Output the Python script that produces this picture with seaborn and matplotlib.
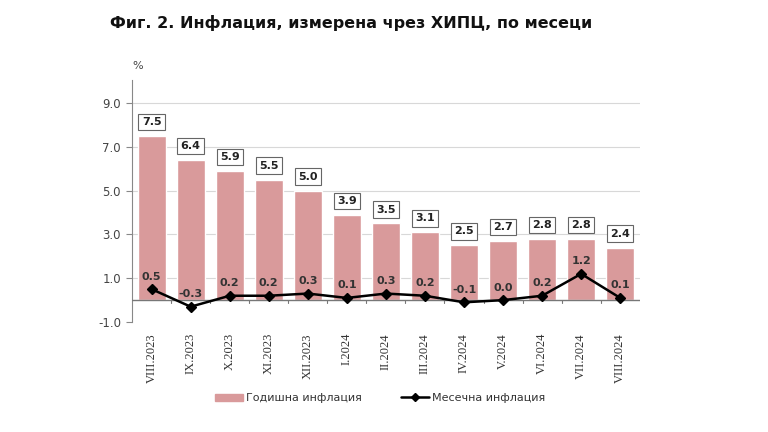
import matplotlib
matplotlib.use("Agg")
import matplotlib.pyplot as plt
import seaborn as sns
import pandas as pd
import numpy as np
from matplotlib.lines import Line2D
from matplotlib.patches import Patch

months = ["VIII.2023", "IX.2023", "X.2023", "XI.2023", "XII.2023", "I.2024", "II.2024",
          "III.2024", "IV.2024", "V.2024", "VI.2024", "VII.2024", "VIII.2024"]
annual = [7.5, 6.4, 5.9, 5.5, 5.0, 3.9, 3.5, 3.1, 2.5, 2.7, 2.8, 2.8, 2.4]
monthly = [0.5, -0.3, 0.2, 0.2, 0.3, 0.1, 0.3, 0.2, -0.1, 0.0, 0.2, 1.2, 0.1]
yticks = [-1.0, 1.0, 3.0, 5.0, 7.0, 9.0]

df = pd.DataFrame({"month": months, "annual": annual, "monthly": monthly})

sns.set_theme(style="white")
plt.rcParams['font.family'] = ['DejaVu Sans']

fig = plt.figure(figsize=(7.68, 4.32), dpi=100)
ax = fig.add_axes([0.172, 0.2546, 0.661, 0.560])

bar_color = "#D99A9B"
sns.barplot(data=df, x="month", y="annual", color=bar_color, width=0.72,
            saturation=1, ax=ax, zorder=2)
x = np.arange(len(months))
ax.plot(x, monthly, color="black", lw=1.8, marker="D", ms=5.5, zorder=4)

ax.set_xlim(-0.5, len(months) - 0.5)
ax.set_ylim(-1.0, 10.05)
ax.set_yticks(yticks)
ax.set_yticklabels([f"{v:.1f}" for v in yticks], fontsize=8.5, color="#444444")
for v in yticks[1:]:
    ax.axhline(v, color="#D8D8D8", lw=0.8, zorder=1)
ax.axhline(0, color="#777777", lw=1.0, zorder=3)
for b in np.arange(0.5, len(months) - 0.5, 1.0):
    ax.plot([b, b], [0, -0.12], color="#777777", lw=0.8, zorder=3)

ax.set_xticks(x)
ax.set_xticklabels(months, rotation=90, fontsize=9, family="Liberation Serif", color="#333333")
ax.tick_params(axis="x", length=0, pad=8)
ax.tick_params(axis="y", length=4, width=0.8, color="#888888", left=True, pad=4)
ax.set_xlabel("")
ax.set_ylabel("")
for s in ["top", "right", "bottom"]:
    ax.spines[s].set_visible(False)
ax.spines["left"].set_color("#888888")
ax.spines["left"].set_linewidth(0.8)

for xi, v in zip(x, annual):
    ax.annotate(f"{v:.1f}", (xi, v), xytext=(0, 10), textcoords="offset points",
                ha="center", va="center", fontsize=8, fontweight="bold", color="#222222",
                bbox=dict(boxstyle="square,pad=0.3", fc="white", ec="#666666", lw=0.8),
                zorder=5)
for xi, v in zip(x, monthly):
    ax.annotate(f"{v:.1f}", (xi, v), xytext=(0, 9), textcoords="offset points",
                ha="center", va="center", fontsize=8, fontweight="bold", color="#333333",
                zorder=5)

fig.text(0.143, 0.947, "Фиг. 2. Инфлация, измерена чрез ХИПЦ, по месеци",
         fontsize=11.5, fontweight="bold", color="#111111", ha="left", va="center")
fig.text(0.172, 0.848, "%", fontsize=8, color="#444444", ha="left", va="center")

handles = [Patch(color=bar_color, label="Годишна инфлация"),
           Line2D([0], [0], color="black", lw=1.8, marker="D", ms=4, label="Месечна инфлация")]
fig.legend(handles=handles, loc="center", bbox_to_anchor=(0.495, 0.078), ncol=2,
           frameon=False, fontsize=8, handlelength=2.5, columnspacing=3.5,
           handletextpad=0.3, labelcolor="#333333")

fig.savefig("out.png", dpi=100)
